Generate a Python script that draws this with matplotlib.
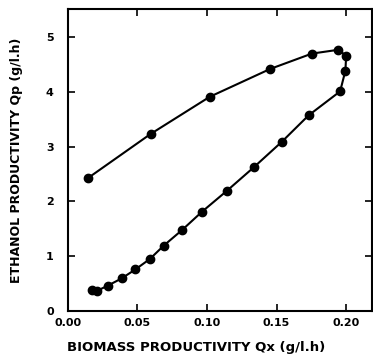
import matplotlib
matplotlib.use("Agg")
import matplotlib.pyplot as plt

qx = [0.0143, 0.0595, 0.102, 0.1455, 0.1754, 0.1945, 0.2000, 0.1995, 0.1957,
      0.173, 0.1539, 0.1336, 0.1145, 0.0965, 0.0822, 0.069, 0.059, 0.0487,
      0.0387, 0.0287, 0.0208, 0.0177]
qp = [2.42, 3.23, 3.91, 4.42, 4.70, 4.77, 4.66, 4.39, 4.01,
      3.57, 3.09, 2.62, 2.195, 1.81, 1.476, 1.19, 0.945, 0.756,
      0.59, 0.457, 0.36, 0.378]

xticks = [0.00, 0.05, 0.10, 0.15, 0.20]
xticklabels = ["0.00", "0.05", "0.10", "0.15", "0.20"]
yticks = [0, 1, 2, 3, 4, 5]
yticklabels = ["0", "1", "2", "3", "4", "5"]

plt.rcParams['font.family'] = ['DejaVu Sans']
fig = plt.figure(figsize=(3.73, 3.64), dpi=100)
ax = fig.add_axes([0.1815, 0.1464, 0.997 - 0.1815, 0.9745 - 0.1464])
ax.plot(qx, qp, color='black', lw=1.5, marker='o', markersize=6,
        markerfacecolor='black', markeredgecolor='black')
ax.set_xlim(0, 0.2185)
ax.set_ylim(0, 5.51)
ax.set_xticks(xticks)
ax.set_xticklabels(xticklabels, fontsize=8, fontweight='heavy')
ax.set_yticks(yticks)
ax.set_yticklabels(yticklabels, fontsize=8, fontweight='heavy')
ax.tick_params(direction='in', length=5, width=1.2, top=True, right=True)
ax.tick_params(axis='x', pad=5)
ax.tick_params(axis='y', pad=10)
for s in ax.spines.values():
    s.set_linewidth(1.5)
fig.text(0.525, 0.044, "BIOMASS PRODUCTIVITY Qx (g/l.h)",
         ha='center', va='center', fontsize=9.5, fontweight='heavy')
fig.text(0.045, 0.56, "ETHANOL PRODUCTIVITY Qp (g/l.h)",
         ha='center', va='center', rotation=90, fontsize=9, fontweight='heavy')
fig.savefig("out.png", dpi=100)
